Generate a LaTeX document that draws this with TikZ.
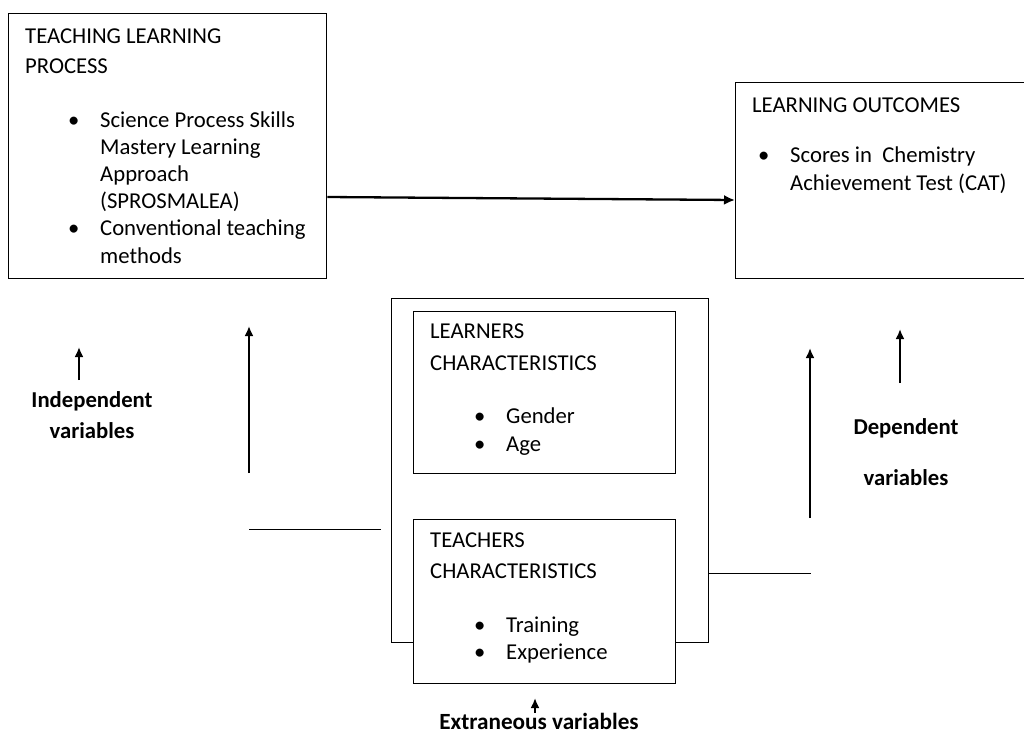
\documentclass[tikz,border=0pt]{standalone}
\usepackage{fontspec}
\setmainfont{Carlito}
\usetikzlibrary{arrows.meta}
\tikzstyle{box} = [draw, line width=1.3pt, rectangle, inner sep=0pt, anchor=north west]
\tikzstyle{txt} = [anchor=base west, inner sep=0pt]
\tikzstyle{lbl} = [anchor=base, inner sep=0pt, font=\fontsize{22.7}{27}\selectfont\bfseries]
\tikzstyle{up} = [line width=2.3pt, -{Latex[length=10pt,width=9pt]}]
\newcommand{\itm}[2]{\hspace*{#1}\makebox[32pt][l]{\textbullet}#2}
\newcommand{\boxtext}[1]{\parbox[t]{340pt}{\fontsize{22.7}{27.2}\selectfont\raggedright #1}}

\begin{document}
\begin{tikzpicture}[x=1pt,y=-1pt]
    \useasboundingbox (0,0) rectangle (1024,734);
    % boxes
    \node[box, minimum width=318pt, minimum height=265pt] (tlp) at (8,13) {};
    \node[box, minimum width=320pt, minimum height=196pt] (lo) at (735,82) {};
    \node[box, minimum width=317pt, minimum height=344pt] (ext) at (391,298) {};
    \node[box, minimum width=262pt, minimum height=162pt] (lrn) at (413,311) {};
    \node[box, fill=white, minimum width=262pt, minimum height=164pt] (tch) at (413,519) {};
    % box texts
    \node[txt] (tlptext) at (25,43) {\boxtext{TEACHING LEARNING\\[2.8pt]
        PROCESS\\[26.8pt]
        \itm{43pt}{Science Process Skills}\\
        \hspace*{75pt}Mastery Learning\\
        \hspace*{75pt}Approach\\
        \hspace*{75pt}(SPROSMALEA)\\
        \itm{43pt}{Conventional teaching}\\
        \hspace*{75pt}methods}};
    \node[txt] (lotext) at (752,112) {\boxtext{LEARNING OUTCOMES\\[22.8pt]
        \itm{6pt}{Scores in~ Chemistry}\\[0.8pt]
        \hspace*{38pt}Achievement Test (CAT)}};
    \node[txt] (lrntext) at (430,338) {\boxtext{LEARNERS\\[4.8pt]
        CHARACTERISTICS\\[25.8pt]
        \itm{44pt}{Gender}\\[0.8pt]
        \itm{44pt}{Age}}};
    \node[txt] (tchtext) at (430,547) {\boxtext{TEACHERS\\[3.8pt]
        CHARACTERISTICS\\[26.8pt]
        \itm{44pt}{Training}\\
        \itm{44pt}{Experience}}};
    % main flow
    \draw[line width=2.3pt, -{Latex[length=11pt,width=10pt]}] (tlp.east |- 0,197) -- (lo.west |- 0,200);
    % left side
    \draw[up] (79,380) -- (79,347);
    \node[lbl] (indep1) at (92,407) {Independent};
    \node[lbl] (indep2) at (92,438) {variables};
    \draw[up] (249,473) -- (249,326);
    \draw[line width=1pt] (249,529) -- (381,529);
    % right side
    \draw[line width=1pt] (ext.east |- 0,573) -- (811,573);
    \draw[up] (810,518) -- (810,348);
    \draw[up] (900,383) -- (900,329);
    \node[lbl] (dep1) at (906,434) {Dependent};
    \node[lbl] (dep2) at (906,485) {variables};
    % bottom
    \draw[up] (535,713) -- (535,698);
    \node[lbl, font=\fontsize{23.2}{27}\selectfont\bfseries] (extlbl) at (539,729) {Extraneous variables};
\end{tikzpicture}
\end{document}
